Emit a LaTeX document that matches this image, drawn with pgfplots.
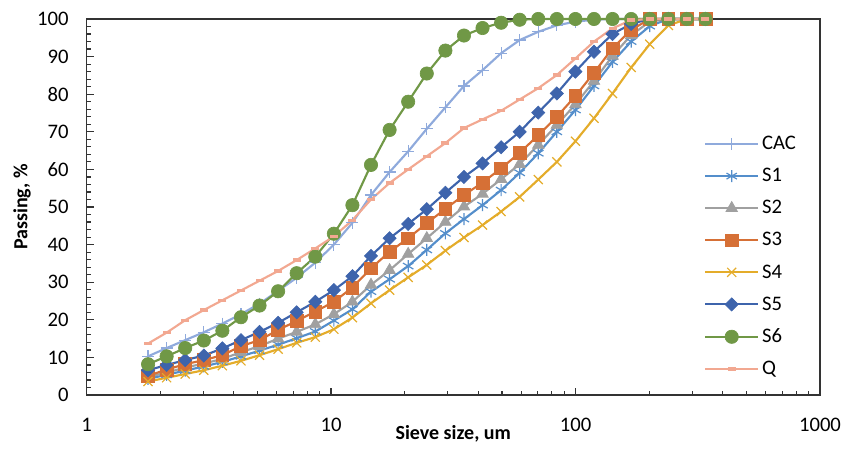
\documentclass[border=0pt]{standalone}
\usepackage{fontspec}
\setmainfont{Carlito}
\usepackage{pgfplots}
\usepackage{pgfplotstable}
\pgfplotsset{compat=1.18}

\definecolor{cCAC}{RGB}{143,170,220}
\definecolor{cS1}{RGB}{84,142,203}
\definecolor{cS2}{RGB}{160,160,160}
\definecolor{cS3}{RGB}{214,112,54}
\definecolor{cS4}{RGB}{228,172,42}
\definecolor{cS5}{RGB}{62,100,172}
\definecolor{cS6}{RGB}{112,152,70}
\definecolor{cQ}{RGB}{242,168,145}

% particle size distribution, cumulative passing (%)
\pgfplotstableread{
x      CAC   S1    S2    S3    S4    S5    S6    Q
1.785  10.3  4.3   4.8   5.1   3.6   6.6   8.2   13.7
2.126  12.5  5.4   6.0   6.8   4.6   8.0   10.3  16.6
2.532  14.6  6.5   7.3   8.2   5.6   9.3   12.5  19.9
3.017  16.7  7.6   8.4   9.3   6.6   10.5  14.5  22.6
3.594  19.0  8.8   9.6   10.6  7.8   12.4  17.1  25.2
4.281  21.5  10.3  11.4  13.0  9.1   14.6  20.7  27.8
5.100  24.3  11.8  13.0  14.6  10.6  16.8  23.8  30.4
6.075  27.7  13.4  15.0  17.3  12.2  19.2  27.6  33.0
7.236  31.2  15.1  16.8  19.7  13.9  22.0  32.4  35.9
8.622  35.2  16.9  18.8  22.2  15.4  24.8  36.8  39.0
10.27  40.0  19.8  21.5  24.8  17.5  27.9  42.9  42.2
12.23  45.8  22.8  24.8  28.6  20.6  31.6  50.5  46.5
14.57  53.2  27.5  29.3  33.7  24.4  37.0  61.2  52.0
17.36  59.3  30.8  33.2  38.1  27.9  41.7  70.5  56.4
20.68  64.8  34.3  37.5  41.7  31.3  45.5  78.0  60.0
24.64  70.8  38.6  41.7  45.7  34.6  49.4  85.5  63.5
29.36  76.5  43.0  46.0  49.5  38.4  53.8  91.6  67.0
34.98  82.2  46.8  50.1  53.2  41.9  58.0  95.6  71.0
41.66  86.4  50.5  53.5  56.5  45.2  61.6  97.6  73.3
49.63  90.9  54.5  57.4  60.3  48.8  65.9  99.0  75.6
59.10  94.4  59.1  61.4  64.4  52.7  70.0  99.8  78.6
70.41  96.6  64.3  66.5  69.1  57.3  75.1  100   81.6
83.85  98.3  70.0  71.8  74.0  62.0  80.2  100   85.1
99.91  99.3  75.8  77.3  79.5  67.5  86.0  100   89.5
119.0  99.8  82.2  83.5  85.7  73.6  91.3  100   94.0
141.7  100   88.6  90.2  92.2  80.2  96.0  100   97.5
168.9  100   94.0  95.7  97.1  87.1  98.7  100   99.7
201.2  100   98.1  99.3  100   93.3  100   100   100
239.7  100   100   100   100   98.3  100   100   100
285.5  100   100   100   100   100   100   100   100
340.1  100   100   100   100   100   100   100   100
}\psd

\begin{document}
\begin{tikzpicture}
\begin{axis}[
  name=ax,
  scale only axis,
  width=550pt, height=282pt,
  xmode=log,
  xmin=1, xmax=1000,
  ymin=0, ymax=100,
  xtick={1,10,100,1000},
  xticklabels={1,10,100,1000},
  ytick={0,10,...,100},
  minor y tick num=4,
  tick pos=left,
  tick align=inside,
  major tick length=5.5pt,
  minor tick length=3pt,
  every tick/.style={black!80, line width=0.9pt},
  axis line style={black!80, line width=1.2pt},
  /pgf/number format/assume math mode=true,
  tick label style={font=\fontsize{15.5}{18}\selectfont},
  xticklabel style={yshift=-14pt},
  yticklabel style={xshift=-10pt},
  xlabel={\textbf{Sieve size, um}},
  ylabel={\textbf{Passing, \%}},
  label style={font=\fontsize{15}{18}\selectfont},
  xlabel style={at={(axis description cs:0.5,-0.104)}, anchor=center},
  ylabel style={at={(axis description cs:-0.088,0.5)}, anchor=center},
  clip=false,
  legend cell align=left,
  legend image code/.code={\draw[mark repeat=2, mark phase=2, #1] plot coordinates {(0pt,0pt) (20pt,0pt) (40pt,0pt)};},
  legend style={at={(axis description cs:0.836,0.703)}, anchor=north west,
    draw=none, fill=none, font=\fontsize{15.5}{18}\selectfont,
    row sep=8.5pt},
  every axis plot/.append style={line width=1.6pt},
]
\addplot[cCAC, mark=+, mark size=4.5pt, mark options={line width=0.9pt}] table[x=x, y=CAC] {\psd};
\addplot[cS1, mark=asterisk, mark size=4.5pt, mark options={line width=0.9pt}] table[x=x, y=S1] {\psd};
\addplot[cS2, mark=triangle*, mark size=5pt, mark options={line width=0.5pt}] table[x=x, y=S2] {\psd};
\addplot[cS3, mark=square*, mark size=4.8pt, mark options={line width=0.5pt}] table[x=x, y=S3] {\psd};
\addplot[cS4, mark=x, mark size=4.8pt, mark options={line width=0.9pt}] table[x=x, y=S4] {\psd};
\addplot[cS5, mark=square*, mark size=3.5pt, mark options={rotate=45, line width=0.5pt}] table[x=x, y=S5] {\psd};
\addplot[cS6, mark=*, mark size=5pt, mark options={line width=0.5pt}] table[x=x, y=S6] {\psd};
\addplot[cQ, mark=-, mark size=3pt, mark options={line width=2.5pt}] table[x=x, y=Q] {\psd};
\legend{CAC,S1,S2,S3,S4,S5,S6,Q}
\end{axis}
\pgfresetboundingbox
\useasboundingbox ([shift={(-64.9pt,-39.75pt)}]ax.south west) rectangle ([shift={(17.25pt,14.25pt)}]ax.north east);
\end{tikzpicture}
\end{document}
